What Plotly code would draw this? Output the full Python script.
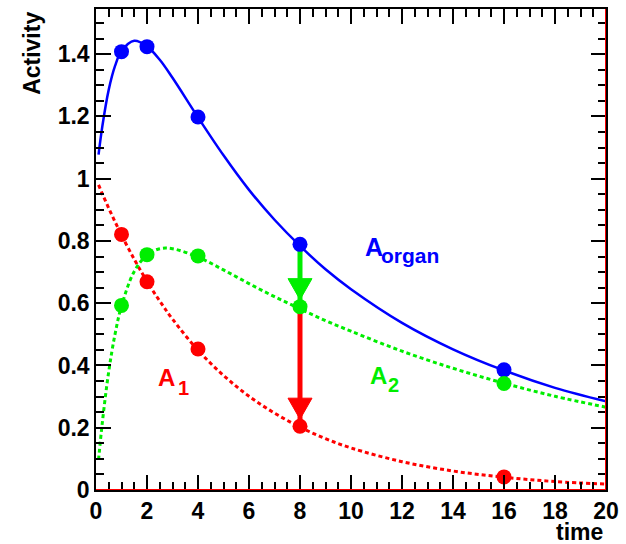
import plotly.graph_objects as go

# ---- data ----
t_curve = [0.1, 0.25, 0.5, 0.75, 1, 1.5, 2, 2.5, 3, 4, 5, 6, 7, 8, 9, 10, 12, 14, 16, 18, 20]
a_organ_curve = [1.077, 1.169, 1.286, 1.363, 1.41, 1.443, 1.425, 1.382, 1.324, 1.197, 1.075,
                 0.964, 0.868, 0.784, 0.709, 0.645, 0.537, 0.452, 0.384, 0.328, 0.285]
a1_curve = [0.98, 0.951, 0.905, 0.861, 0.819, 0.741, 0.670, 0.607, 0.549, 0.449, 0.368,
            0.301, 0.247, 0.202, 0.165, 0.135, 0.091, 0.061, 0.041, 0.027, 0.019]
a2_curve = [0.097, 0.218, 0.381, 0.502, 0.591, 0.702, 0.755, 0.775, 0.775, 0.748, 0.707,
            0.663, 0.621, 0.582, 0.544, 0.510, 0.446, 0.391, 0.343, 0.301, 0.266]

t_points = [1, 2, 4, 8, 16]
a_organ_points = [1.408, 1.424, 1.198, 0.789, 0.386]
a1_points = [0.821, 0.669, 0.453, 0.205, 0.042]
a2_points = [0.593, 0.756, 0.752, 0.589, 0.342]

x_ticks = [0, 2, 4, 6, 8, 10, 12, 14, 16, 18, 20]
y_ticks = [0, 0.2, 0.4, 0.6, 0.8, 1.0, 1.2, 1.4]

BLUE = "#0000ff"
RED = "#ff0000"
GREEN = "#00ee00"

L, R, T, B = 96, 609, 7, 490
W, H = 626, 544


def px(x):
    return (x - L) / (R - L)


def py(y):
    return (B - y) / (B - T)


fig = go.Figure()

# curves
fig.add_trace(go.Scatter(x=t_curve, y=a1_curve, mode="lines", line=dict(color=RED, width=3, dash="4px,3px", shape="spline")))
fig.add_trace(go.Scatter(x=t_curve, y=a2_curve, mode="lines", line=dict(color=GREEN, width=3, dash="4px,3px", shape="spline")))
fig.add_trace(go.Scatter(x=t_curve, y=a_organ_curve, mode="lines", line=dict(color=BLUE, width=2.5, shape="spline")))

# arrow shafts at t = 8
i8 = t_points.index(8)
fig.add_trace(go.Scatter(x=[t_points[i8], t_points[i8]], y=[a_organ_points[i8], a2_points[i8]],
                         mode="lines", line=dict(color=GREEN, width=5)))
fig.add_trace(go.Scatter(x=[t_points[i8], t_points[i8]], y=[a2_points[i8], a1_points[i8]],
                         mode="lines", line=dict(color=RED, width=5)))

# markers
for ys, c in [(a_organ_points, BLUE), (a1_points, RED), (a2_points, GREEN)]:
    fig.add_trace(go.Scatter(x=t_points, y=ys, mode="markers", marker=dict(color=c, size=15, line=dict(width=0))))

shapes = []
# arrow heads (pixel-sized triangles, tip just above target point)
for ytarget, c in [(a2_points[i8], GREEN), (a1_points[i8], RED)]:
    shapes.append(dict(type="path", xref="x", yref="y", xsizemode="pixel", ysizemode="pixel",
                       xanchor=t_points[i8], yanchor=ytarget,
                       path="M-12,28 L12,28 L0,7 Z", fillcolor=c, line=dict(color=c, width=1)))
# red frame lines (right and bottom)
shapes.append(dict(type="line", xref="x", yref="paper", x0=20, x1=20, y0=0, y1=1, line=dict(color=RED, width=2)))
shapes.append(dict(type="line", xref="paper", yref="y", x0=0, x1=1, y0=0, y1=0, line=dict(color=RED, width=2)))

FONT = "Liberation Sans"
ann = []


def label(text, xl, ymid, size, color):
    ann.append(dict(text=text, xref="paper", yref="paper", x=px(xl - 2), y=py(ymid),
                    xanchor="left", yanchor="middle", showarrow=False,
                    font=dict(family=FONT, size=size, color=color, weight="bold")))


label("A", 367, 255 - 0.35 * 25, 25, BLUE)
label("organ", 383, 262 - 0.35 * 21, 21, BLUE)
label("A", 158, 385 - 0.35 * 24, 24, RED)
label("1", 178, 395 - 0.35 * 20, 20, RED)
label("A", 372, 383 - 0.35 * 24, 24, GREEN)
label("2", 390, 392 - 0.35 * 20, 20, GREEN)

# axis titles
ann.append(dict(text="Activity", xref="paper", yref="paper", x=px(32), y=py(8), textangle=-90,
                xanchor="center", yanchor="top", showarrow=False,
                font=dict(family=FONT, size=23, color="black", weight="bold")))
ann.append(dict(text="time", xref="paper", yref="paper", x=px(608), y=py(540 - 0.35 * 23),
                xanchor="right", yanchor="middle", showarrow=False,
                font=dict(family=FONT, size=23, color="black", weight="bold")))

axis_common = dict(showgrid=False, zeroline=False, showline=True, linecolor="black", linewidth=1.5,
                   mirror="allticks", ticks="inside", tickcolor="black", tickwidth=1.5, ticklen=15,
                   tickfont=dict(family=FONT, size=23, color="black", weight="bold"))

fig.update_layout(
    width=W, height=H,
    margin=dict(l=L, r=W - R, t=T, b=H - B),
    paper_bgcolor="white", plot_bgcolor="white",
    showlegend=False,
    shapes=shapes, annotations=ann,
    xaxis=dict(range=[0, 20], tickvals=x_ticks, ticktext=[str(v) for v in x_ticks],
               minor=dict(dtick=0.5, tick0=0, ticklen=8, ticks="inside", tickcolor="black", tickwidth=1.5),
               **axis_common),
    yaxis=dict(range=[0, 1.545], tickvals=y_ticks, ticktext=["0", "0.2", "0.4", "0.6", "0.8", "1", "1.2", "1.4"],
               minor=dict(dtick=0.05, tick0=0, ticklen=8, ticks="inside", tickcolor="black", tickwidth=1.5),
               **axis_common),
)

fig.write_html("out.html", config={"displayModeBar": False},
               post_script="document.body.style.margin='0px';document.body.style.overflow='hidden';")
